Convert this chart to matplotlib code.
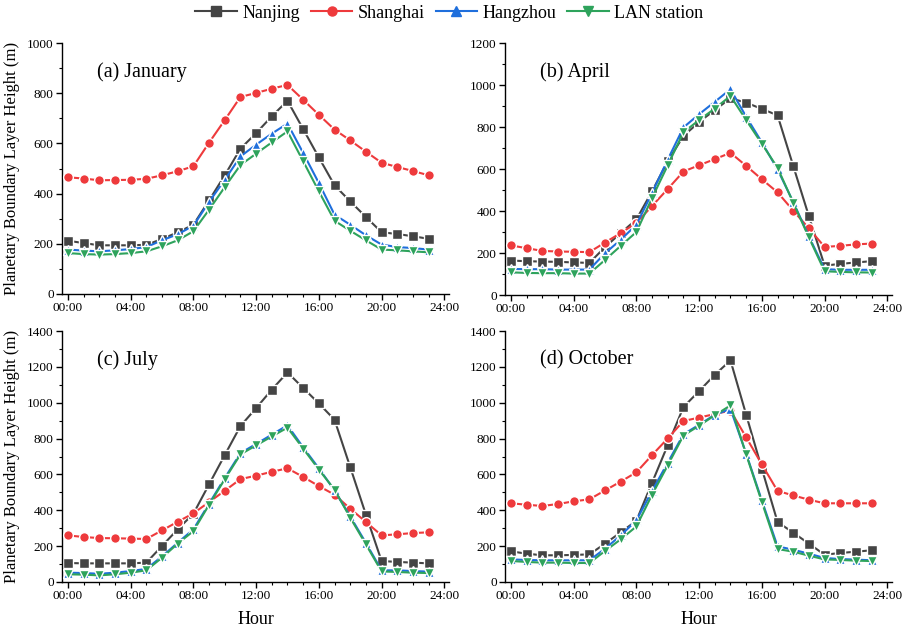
import matplotlib
matplotlib.use("Agg")
import matplotlib.pyplot as plt
from matplotlib.ticker import MultipleLocator, FixedLocator
from matplotlib.lines import Line2D

plt.rcParams['font.family'] = ['Liberation Serif', 'DejaVu Serif']

hours = list(range(24))
xtick_pos = [0, 4, 8, 12, 16, 20, 24]
xtick_labels = ["00:00", "04:00", "08:00", "12:00", "16:00", "20:00", "24:00"]

series_names = ["Nanjing", "Shanghai", "Hangzhou", "LAN station"]
panel_titles = ["(a) January", "(b) April", "(c) July", "(d) October"]

# January
jan_nanjing = [212, 203, 194, 194, 194, 196, 219, 246, 276, 373, 473, 579, 641, 708, 770, 657, 544, 433, 369, 307, 246, 239, 230, 220]
jan_shanghai = [465, 460, 453, 454, 455, 459, 473, 489, 509, 603, 693, 785, 801, 818, 833, 774, 714, 655, 612, 567, 523, 506, 490, 473]
jan_hangzhou = [177, 173, 170, 174, 179, 187, 214, 238, 272, 367, 455, 548, 595, 639, 679, 562, 442, 316, 276, 234, 197, 187, 183, 177]
jan_lan = [163, 159, 157, 159, 163, 170, 190, 214, 250, 336, 426, 514, 559, 604, 648, 529, 409, 292, 252, 214, 177, 174, 170, 166]

# April
apr_nanjing = [164, 161, 159, 158, 155, 153, 228, 295, 360, 494, 637, 757, 824, 881, 937, 916, 886, 856, 615, 375, 140, 148, 155, 161]
apr_shanghai = [236, 223, 210, 207, 206, 204, 250, 295, 343, 424, 505, 588, 618, 647, 677, 615, 551, 489, 402, 317, 229, 234, 241, 245]
apr_hangzhou = [124, 123, 123, 121, 121, 121, 199, 263, 335, 486, 645, 798, 861, 920, 980, 849, 727, 598, 443, 279, 123, 120, 120, 120]
apr_lan = [108, 105, 104, 104, 102, 102, 167, 234, 300, 462, 618, 775, 833, 888, 948, 833, 720, 606, 440, 274, 113, 110, 108, 107]

# July
jul_nanjing = [106, 104, 104, 104, 104, 108, 201, 294, 381, 545, 708, 870, 970, 1073, 1169, 1082, 996, 905, 641, 376, 117, 112, 108, 104]
jul_shanghai = [260, 251, 245, 244, 242, 240, 288, 336, 383, 446, 509, 574, 593, 615, 634, 586, 535, 487, 409, 335, 260, 266, 273, 277]
jul_hangzhou = [52, 50, 46, 52, 61, 73, 143, 219, 294, 437, 580, 719, 770, 822, 874, 751, 634, 511, 366, 218, 65, 65, 61, 58]
jul_lan = [43, 41, 37, 43, 52, 65, 136, 214, 284, 431, 573, 712, 762, 812, 861, 744, 627, 515, 359, 210, 59, 56, 52, 50]

# October
oct_nanjing = [171, 158, 149, 149, 151, 154, 214, 277, 342, 554, 764, 976, 1065, 1156, 1236, 933, 632, 335, 275, 214, 152, 162, 169, 177]
oct_shanghai = [439, 431, 424, 435, 450, 461, 511, 560, 612, 708, 801, 898, 917, 937, 956, 807, 656, 508, 483, 459, 439, 439, 439, 439]
oct_hangzhou = [126, 123, 121, 121, 121, 121, 186, 260, 344, 508, 666, 824, 877, 933, 965, 716, 455, 199, 180, 158, 134, 128, 125, 121]
oct_lan = [117, 112, 108, 108, 106, 106, 173, 238, 310, 487, 651, 817, 872, 930, 985, 712, 446, 184, 169, 147, 126, 123, 119, 117]

panels = [
    [jan_nanjing, jan_shanghai, jan_hangzhou, jan_lan],
    [apr_nanjing, apr_shanghai, apr_hangzhou, apr_lan],
    [jul_nanjing, jul_shanghai, jul_hangzhou, jul_lan],
    [oct_nanjing, oct_shanghai, oct_hangzhou, oct_lan],
]
ymaxes = [1000, 1200, 1400, 1400]

colors = ["#444444", "#ee3a3c", "#1f6fdc", "#2ea35c"]
markers = ["s", "o", "^", "v"]

fig = plt.figure(figsize=(9.04, 6.32), dpi=100)
W, H = 904, 632
boxes = [(62, 43, 449, 294), (505, 43, 892, 295), (62, 331, 449, 582), (505, 331, 892, 582)]

for k, (x0, y0, x1, y1) in enumerate(boxes):
    ax = fig.add_axes([x0 / W, 1 - y1 / H, (x1 - x0) / W, (y1 - y0) / H])
    for s in range(4):
        ax.plot(hours, panels[k][s], color=colors[s], lw=1.5, marker=markers[s],
                markersize=7, markerfacecolor=colors[s], markeredgecolor='white',
                markeredgewidth=1.0, zorder=2 + s)
    ax.set_xlim(-0.38, 24.3)
    ax.set_ylim(0, ymaxes[k])
    ax.xaxis.set_major_locator(FixedLocator(xtick_pos))
    ax.set_xticklabels(xtick_labels)
    ax.xaxis.set_minor_locator(MultipleLocator(1))
    ax.yaxis.set_major_locator(MultipleLocator(200))
    ax.yaxis.set_minor_locator(MultipleLocator(100))
    ax.tick_params(which='major', direction='out', length=4, width=1, labelsize=9.5, pad=2)
    ax.tick_params(which='minor', direction='out', length=2.5, width=0.8)
    for sp in ['top', 'right']:
        ax.spines[sp].set_visible(False)
    for sp in ['left', 'bottom']:
        ax.spines[sp].set_linewidth(1.0)
    ax.text(0.09, 0.885, panel_titles[k], transform=ax.transAxes, fontsize=14.5,
            ha='left', va='center')
    if k in (0, 2):
        ax.set_ylabel("Planetary Boundary Layer Height (m)", fontsize=12, labelpad=5)
    if k in (2, 3):
        ax.set_xlabel("Hour", fontsize=13, labelpad=6)

handles = [Line2D([], [], color=colors[s], lw=1.5, marker=markers[s], markersize=6.5)
           for s in range(4)]
fig.legend(handles, series_names, loc='center', bbox_to_anchor=(0.497, 1 - 13 / H),
           ncol=4, frameon=False, fontsize=13, handlelength=2.3, columnspacing=0.6,
           handletextpad=0.3, borderpad=0.0)

fig.savefig("out.png", dpi=100)
